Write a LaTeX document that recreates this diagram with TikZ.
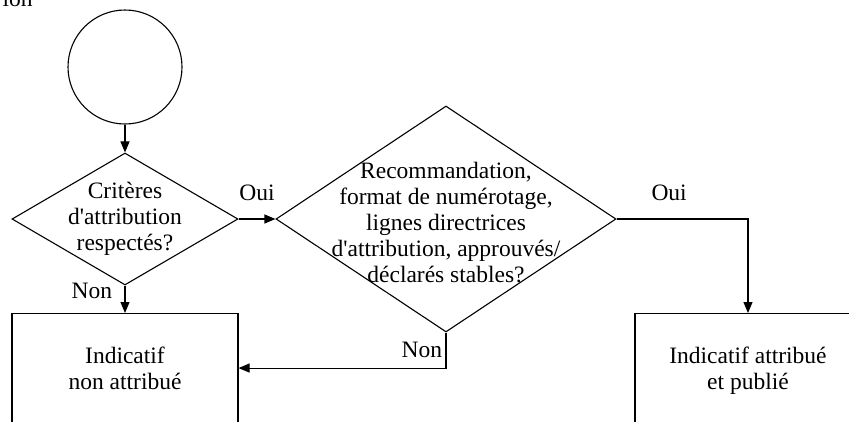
\documentclass[tikz,border=0pt]{standalone}
\usepackage{fontspec}
\setmainfont{Liberation Serif}
\usetikzlibrary{shapes.geometric,arrows.meta}
\newcommand{\apos}{\textquotesingle}

\begin{document}
\begin{tikzpicture}[x=1pt,y=-1pt,>={Triangle[length=11pt,width=9pt]},line width=1.1pt,
        every node/.style={font=\fontsize{23.5}{26}\selectfont},
        startnode/.style={draw,circle,minimum size=114pt,inner sep=0pt},
        decision/.style={draw,diamond,inner sep=0pt},
        outbox/.style={draw,rectangle,align=center,minimum width=226pt,anchor=north}]
        % Frame
        \useasboundingbox (0,0) rectangle (849,421);
        \clip (0,0) rectangle (849,421);
        % Nodes
        \node[anchor=base west,inner sep=0pt] (capt) at (2,6) {ion};
        \node[startnode] (start) at (125,67) {};
        \node[decision,minimum width=226pt,minimum height=132pt,
              label={[align=center]center:Critères\\d\apos attribution\\respectés?}] (crit) at (125,219) {};
        \node[decision,minimum width=340pt,minimum height=226pt,
              label={[align=center,yshift=-4pt]center:Recommandation,\\format de numérotage,\\lignes directrices\\d\apos attribution, approuvés/\\déclarés stables?}] (reco) at (446,219) {};
        \node[outbox,minimum height=109pt] (nonattr) at (125,313) {Indicatif\\non attribué};
        \node[outbox,minimum height=114pt] (attr) at (748,313) {Indicatif attribué\\et publié};
        % Arrows
        \draw[->] (start) -- (crit);
        \draw[->] (crit) -- node[above=14pt] {Oui} (reco);
        \draw[->] (crit) -- node[pos=0.2,left=9pt] {Non} (nonattr);
        \draw[->] (reco) |- node[pos=0.25,left] {Non} (nonattr);
        \draw[->] (reco) -| node[pos=0.2,above=14pt] {Oui} (attr);

    \end{tikzpicture}
\end{document}
